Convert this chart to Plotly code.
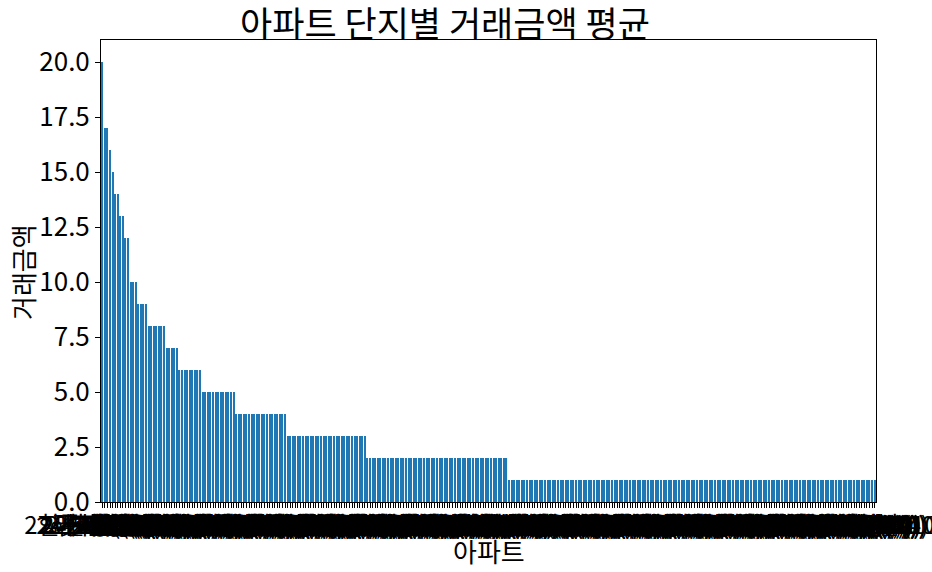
import plotly.graph_objects as go

# Distinct mean price levels (sorted descending) and how many complexes share each level
LEVELS = [20, 17, 16, 15, 14, 13, 12, 10, 9, 8, 7, 6, 5, 4, 3, 2, 1]
COUNTS = [1, 2, 1, 1, 2, 2, 2, 3, 4, 7, 5, 9, 13, 20, 31, 55, 143]

# Apartment complex names (unreadable in the original: labels overlap into a solid band)
BASE_NAMES = ["래미안", "자이", "힐스테이트", "푸르지오", "아이파크", "e편한세상",
              "롯데캐슬", "더샵", "현대", "삼성", "한신", "대림", "우성", "극동",
              "신동아", "쌍용", "벽산", "두산위브", "동아", "한양"]

values = []
for lv, c in zip(LEVELS, COUNTS):
    values += [lv] * c

names = []
k = 0
while len(names) < len(values):
    b = BASE_NAMES[k % len(BASE_NAMES)]
    names.append(f"{k // len(BASE_NAMES) + 2}{b}({k % 9 + 1}0)")
    k += 1

FONT = "Noto Sans CJK KR"
L, R, T, B = 101, 876, 40, 502
PW, PH = R - L, B - T

fig = go.Figure(go.Bar(x=names, y=values, marker=dict(color="#1f77b4", line=dict(width=0))))

fig.update_layout(
    width=932, height=572,
    margin=dict(l=L, r=932 - R, t=T, b=572 - B, autoexpand=False),
    plot_bgcolor="white", paper_bgcolor="white",
    bargap=0.55,
    showlegend=False,
    font=dict(family=FONT, color="black", size=24),
    annotations=[
        dict(text="아파트 단지별 거래금액 평균", xref="paper", yref="paper",
             x=(445 - L) / PW, y=(B - 21) / PH, xanchor="center", yanchor="middle",
             showarrow=False, font=dict(size=35, family=FONT, color="black")),
        dict(text="아파트", xref="paper", yref="paper",
             x=(489 - L) / PW, y=(B - 550) / PH, xanchor="center", yanchor="middle",
             showarrow=False, font=dict(size=26, family=FONT, color="black")),
        dict(text="거래금액", xref="paper", yref="paper",
             x=(22 - L) / PW, y=(B - 272) / PH, xanchor="center", yanchor="middle",
             textangle=-90, showarrow=False, font=dict(size=26, family=FONT, color="black")),
    ],
)
fig.update_xaxes(
    type="category", range=[-0.5, len(values) - 0.5], automargin=False,
    tickmode="array", tickvals=names, ticktext=names, tickangle=0,
    ticks="outside", ticklen=5, tickcolor="black",
    showline=True, linecolor="black", linewidth=1, mirror=True,
    showgrid=False,
    tickfont=dict(size=24, family=FONT),
    ticklabelstandoff=-3,
)
fig.update_yaxes(
    range=[0, 21], automargin=False,
    tickmode="array", tickvals=[0, 2.5, 5, 7.5, 10, 12.5, 15, 17.5, 20],
    ticktext=["0.0", "2.5", "5.0", "7.5", "10.0", "12.5", "15.0", "17.5", "20.0"],
    ticks="outside", ticklen=5, tickcolor="black",
    showline=True, linecolor="black", linewidth=1, mirror=True,
    showgrid=False, zeroline=False,
    tickfont=dict(size=26, family=FONT),
)

fig.write_html("out.html", config={"displayModeBar": False},
               post_script="document.body.style.margin='0';document.body.style.padding='0';")
